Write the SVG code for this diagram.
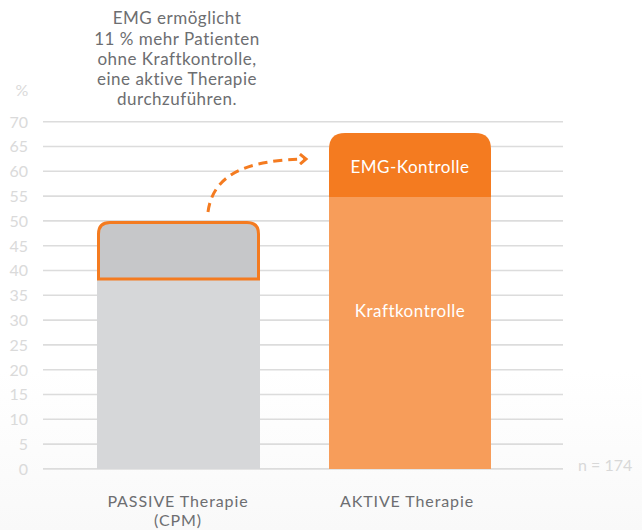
<svg xmlns="http://www.w3.org/2000/svg" width="642" height="530" viewBox="0 0 642 530">
<defs>
<style>
.t{font-family:Lato,"Noto Sans",sans-serif;}
.ax{font-size:16px;fill:#dadada;text-anchor:end;}
.grid line{stroke:#dcdcdc;stroke-width:1.6;}
.lbl{font-size:17px;letter-spacing:0.5px;fill:#6d6e71;text-anchor:middle;}
.xl{font-size:16px;letter-spacing:0.9px;fill:#6d6e71;text-anchor:middle;}
.w{font-size:17px;letter-spacing:0.5px;fill:#ffffff;text-anchor:middle;}
</style>
<linearGradient id="bg" x1="0" y1="0" x2="0" y2="1">
<stop offset="0" stop-color="#ffffff"/>
<stop offset="1" stop-color="#f9f9f9"/>
</linearGradient>
<marker id="ah" markerWidth="12" markerHeight="12" refX="8" refY="6" orient="auto" markerUnits="userSpaceOnUse">
<path d="M2,1 L8,6 L2,11" fill="none" stroke="#f47b20" stroke-width="3"/>
</marker>
</defs>
<rect width="642" height="530" fill="#ffffff"/>
<rect x="0" y="370" width="642" height="160" fill="url(#bg)"/>
<g class="grid">
<line x1="43" y1="121.7" x2="563" y2="121.7"/>
<line x1="43" y1="146.5" x2="563" y2="146.5"/>
<line x1="43" y1="171.3" x2="563" y2="171.3"/>
<line x1="43" y1="196.1" x2="563" y2="196.1"/>
<line x1="43" y1="220.9" x2="563" y2="220.9"/>
<line x1="43" y1="245.7" x2="563" y2="245.7"/>
<line x1="43" y1="270.5" x2="563" y2="270.5"/>
<line x1="43" y1="295.3" x2="563" y2="295.3"/>
<line x1="43" y1="320.1" x2="563" y2="320.1"/>
<line x1="43" y1="344.9" x2="563" y2="344.9"/>
<line x1="43" y1="369.7" x2="563" y2="369.7"/>
<line x1="43" y1="394.5" x2="563" y2="394.5"/>
<line x1="43" y1="419.3" x2="563" y2="419.3"/>
<line x1="43" y1="444.1" x2="563" y2="444.1"/>
<line x1="43" y1="468.9" x2="563" y2="468.9"/>
</g>
<g id="yaxis" class="t ax">
<text x="22" y="96" text-anchor="middle" style="text-anchor:middle">%</text>
<text x="28" y="127.5">70</text>
<text x="28" y="152.3">65</text>
<text x="28" y="177.1">60</text>
<text x="28" y="201.9">55</text>
<text x="28" y="226.7">50</text>
<text x="28" y="251.5">45</text>
<text x="28" y="276.3">40</text>
<text x="28" y="301.1">35</text>
<text x="28" y="325.9">30</text>
<text x="28" y="350.7">25</text>
<text x="28" y="375.5">20</text>
<text x="28" y="400.3">15</text>
<text x="28" y="425.1">10</text>
<text x="28" y="449.9">5</text>
<text x="28" y="474.7">0</text>
</g>
<g id="passive">
<rect x="97" y="279" width="163" height="190" fill="#d6d7d9"/>
<path d="M98.5,279 L98.5,234 Q98.5,222.5 110,222.5 L247,222.5 Q258.5,222.5 258.5,234 L258.5,279 Z" fill="#c6c7c9" stroke="#f47b20" stroke-width="3"/>
</g>
<g id="active">
<rect x="329" y="197" width="162" height="272" fill="#f79d5a"/>
<path d="M329,197 L329,149 Q329,133 345,133 L475,133 Q491,133 491,149 L491,197 Z" fill="#f47b20"/>
<text class="t w" x="410" y="173">EMG-Kontrolle</text>
<text class="t w" x="410" y="317">Kraftkontrolle</text>
</g>
<g id="connectors">
<path d="M208,212 C213,175 245,160 306,159" fill="none" stroke="#f47b20" stroke-width="3" stroke-dasharray="9,6" marker-end="url(#ah)"/>
</g>
<g id="note" class="t lbl">
<text x="177" y="24">EMG ermöglicht</text>
<text x="177" y="44.5">11 % mehr Patienten</text>
<text x="177" y="65">ohne Kraftkontrolle,</text>
<text x="177" y="85">eine aktive Therapie</text>
<text x="177" y="104.5">durchzuführen.</text>
</g>
<g id="xlabels" class="t xl">
<text x="178" y="507">PASSIVE Therapie</text>
<text x="178" y="526">(CPM)</text>
<text x="407" y="507">AKTIVE Therapie</text>
</g>
<text class="t" x="578" y="471" font-size="16" fill="#d8d8d8">n = 174</text>
</svg>
